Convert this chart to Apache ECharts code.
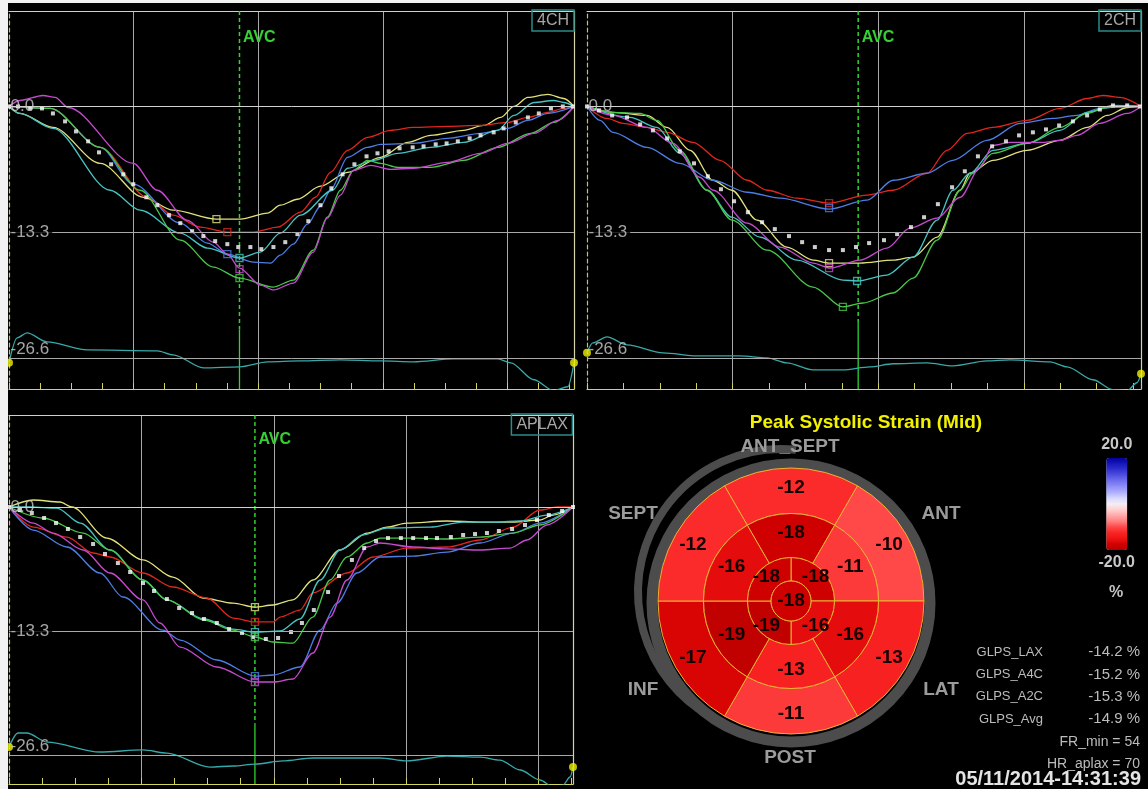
<!DOCTYPE html>
<html><head><meta charset="utf-8">
<script src="https://cdn.jsdelivr.net/npm/echarts@6/dist/echarts.min.js"></script>
<style>html,body{margin:0;padding:0;background:#000}#c{width:1148px;height:789px}</style>
</head><body><div id="c"></div>
<script>
// ---------------- DATA ----------------
const Y_TICKS = [0, -13.3, -26.6];
const Y_TICK_LABELS = ['0.0', '-13.3', '-26.6'];
const VIEW_NAMES = ['4CH', '2CH', 'APLAX'];
const AVC_TIMES = [7.40, 7.45, 7.43];
const AVC_TEXT = 'AVC';

// 4CH  (x: frame ticks, y: strain %)
const ch4Yellow = [[0,0],[0.35,-0.74],[1.41,-2.22],[2.93,-6.02],[4.31,-9.61],[5.27,-10.98],[6.66,-11.93],[7.43,-11.93],[8.30,-11.29],[8.71,-10.45],[9.26,-9.82],[10.0,-8.44],[10.87,-6.97],[11.93,-5.38],[12.80,-3.80],[13.54,-3.06],[14.60,-2.53],[15.24,-2.01],[15.79,-1.16],[16.21,0],[16.66,0.95],[17.30,1.27],[17.81,0.84],[18.14,0]];
const ch4Red = [[0,0],[1.32,-0.21],[2.93,-4.33],[4.44,-9.61],[5.27,-11.51],[6.14,-12.77],[7.01,-13.30],[7.85,-13.30],[8.62,-12.77],[9.36,-11.19],[9.84,-9.61],[10.32,-6.97],[10.87,-4.64],[11.51,-3.27],[12.25,-2.53],[12.99,-2.22],[14.08,-2.11],[15.14,-2.01],[16.01,-1.69],[16.66,-1.16],[17.30,-0.63],[17.81,-0.21],[18.14,0]];
const ch4Blue = [[0,0],[1.32,-0.21],[2.93,-4.33],[3.99,-8.23],[5.50,-12.35],[6.37,-14.46],[7.01,-15.62],[7.85,-16.47],[8.40,-16.57],[8.71,-15.73],[9.13,-14.57],[9.58,-12.46],[10.0,-10.56],[10.32,-8.87],[10.87,-5.38],[11.51,-4.33],[11.93,-4.01],[12.99,-3.91],[14.08,-3.38],[15.14,-2.85],[16.01,-2.32],[16.66,-1.48],[17.30,-0.74],[18.14,0]];
const ch4Cyan = [[0,0],[0.35,-0.74],[1.41,-2.32],[3.25,-8.87],[4.21,-10.98],[5.50,-13.41],[6.37,-14.99],[7.40,-16.04],[8.07,-15.41],[8.71,-13.41],[9.36,-11.51],[10.39,-8.87],[10.87,-6.54],[11.70,-5.70],[12.48,-4.96],[13.54,-4.33],[14.60,-3.80],[15.69,-2.53],[16.21,-0.95],[16.85,0.42],[17.49,0.63],[17.81,0.42],[18.14,0]];
const ch4Green = [[0,0],[1.32,-0.21],[2.93,-4.33],[4.21,-8.87],[5.50,-14.15],[6.56,-17.0],[7.40,-18.16],[8.49,-19.11],[9.13,-18.37],[9.77,-15.20],[10.22,-11.72],[10.64,-8.87],[11.06,-6.76],[11.51,-5.70],[11.93,-6.02],[12.48,-6.44],[13.54,-6.44],[14.60,-5.70],[15.69,-4.33],[16.75,-2.85],[17.49,-1.69],[18.14,0]];
const ch4Magenta = [[0,0],[0.35,0.63],[1.09,1.16],[1.48,0.95],[1.90,-0.11],[3.99,-6.02],[4.76,-8.87],[5.72,-12.03],[6.56,-14.36],[7.01,-15.62],[7.40,-17.10],[8.07,-18.90],[8.49,-19.42],[9.13,-18.69],[9.77,-15.41],[10.22,-11.82],[10.64,-9.39],[11.06,-6.76],[11.61,-6.23],[12.25,-6.65],[12.99,-6.54],[14.08,-5.91],[15.14,-4.96],[16.01,-3.91],[16.85,-2.85],[17.62,-1.48],[18.14,0]];
const ch4Avg = [[0,0],[0.29,0],[0.68,-0.21],[1.06,-0.21],[1.41,-0.74],[1.80,-1.58],[2.15,-2.64],[2.54,-3.69],[2.89,-4.86],[3.28,-6.12],[3.67,-7.18],[3.99,-8.23],[4.41,-9.61],[4.76,-10.45],[5.14,-11.51],[5.50,-12.35],[5.88,-13.20],[6.24,-13.72],[6.62,-14.25],[7.01,-14.57],[7.36,-14.88],[7.75,-14.88],[8.10,-15.10],[8.49,-14.88],[8.87,-14.36],[9.26,-13.51],[9.61,-12.14],[10.0,-10.45],[10.35,-8.66],[10.71,-7.18],[11.09,-6.12],[11.48,-5.28],[11.83,-4.96],[12.19,-4.75],[12.54,-4.43],[12.96,-4.33],[13.31,-4.22],[13.70,-4.01],[14.05,-3.91],[14.41,-3.69],[14.79,-3.38],[15.14,-3.06],[15.56,-2.74],[15.88,-2.32],[16.27,-1.69],[16.66,-1.16],[17.01,-0.74],[17.40,-0.21],[17.78,0],[18.10,0]];
const ch4Ecg = [[0,-27.13],[0.26,-24.49],[0.58,-23.96],[1.22,-24.91],[2.51,-25.76],[4.76,-25.86],[5.27,-26.28],[6.24,-27.66],[7.40,-27.55],[8.30,-27.02],[9.36,-26.92],[10.64,-26.81],[11.93,-26.92],[12.99,-27.02],[14.28,-26.71],[15.69,-26.71],[16.11,-27.13],[16.85,-28.92],[17.49,-30.08],[17.94,-29.66],[18.14,-27.13]];
// peak markers: yellow, red, blue, cyan, green, magenta
const ch4Peaks = [[6.66,-11.93],[7.01,-13.30],[7.01,-15.62],[7.40,-16.04],[7.40,-18.16],[7.40,-17.21]];

// 2CH
const ch2Yellow = [[0,0],[0.71,-0.63],[1.65,-0.95],[2.20,-2.22],[2.83,-4.64],[3.46,-7.81],[3.98,-8.87],[4.67,-12.03],[5.49,-14.88],[6.21,-16.26],[6.65,-16.57],[7.50,-16.57],[8.41,-16.26],[8.96,-15.94],[9.62,-13.83],[10.25,-8.87],[10.52,-7.07],[11.15,-5.70],[12.09,-4.64],[12.99,-3.59],[13.74,-2.22],[14.29,-0.95],[14.84,-0.11],[15.22,0]];
const ch2Red = [[0,0],[0.55,-1.27],[0.99,-1.79],[1.65,-2.22],[2.20,-2.74],[2.91,-3.80],[3.65,-5.70],[4.40,-7.81],[4.95,-8.87],[5.77,-9.71],[6.65,-10.24],[7.69,-9.39],[8.41,-8.87],[9.34,-7.07],[9.89,-4.64],[10.44,-2.85],[11.15,-2.22],[12.09,-1.48],[12.99,-0.21],[13.74,0.84],[14.18,1.16],[14.64,0.95],[15.22,0]];
const ch2Blue = [[0,0],[0.36,-1.48],[0.71,-2.74],[1.65,-4.33],[2.55,-6.02],[3.46,-7.81],[4.40,-9.08],[5.30,-9.71],[6.65,-10.87],[7.69,-9.92],[8.41,-7.81],[9.34,-7.07],[10.05,-5.70],[10.99,-3.59],[11.90,-1.79],[12.80,-1.27],[13.46,-0.95],[14.09,-0.21],[14.84,0.11],[15.22,0]];
const ch2Cyan = [[0,0],[1.18,-1.16],[1.92,-2.22],[2.55,-4.96],[3.30,-8.87],[3.98,-11.72],[4.75,-13.83],[5.77,-16.26],[7.03,-18.37],[7.42,-18.47],[8.24,-17.84],[8.96,-15.94],[9.62,-12.03],[10.05,-8.87],[10.52,-7.07],[11.15,-4.64],[12.09,-3.91],[12.99,-2.53],[13.74,-0.63],[14.45,0.11],[15.22,0]];
const ch2Green = [[0,0],[0.71,-0.63],[1.46,-0.74],[1.92,-1.48],[2.55,-4.64],[3.30,-8.87],[3.98,-12.03],[4.95,-15.20],[6.21,-19.11],[7.03,-21.22],[7.58,-20.80],[8.41,-19.74],[8.96,-18.16],[9.62,-14.15],[10.25,-8.87],[10.60,-7.07],[11.15,-4.96],[12.09,-3.91],[12.99,-2.22],[13.74,-0.74],[14.29,-0.11],[15.22,0]];
const ch2Magenta = [[0,0],[0.71,-0.95],[1.65,-2.22],[2.36,-3.91],[3.10,-7.49],[3.46,-8.87],[4.40,-12.35],[5.30,-14.88],[6.21,-16.57],[6.68,-17.10],[7.50,-16.26],[8.24,-14.99],[8.87,-12.88],[9.62,-11.82],[10.25,-9.61],[10.80,-6.44],[11.15,-4.12],[11.62,-3.80],[12.53,-3.80],[12.99,-3.59],[13.46,-3.06],[14.09,-1.79],[14.84,-0.74],[15.22,0]];
const ch2Avg = [[0,0],[0.33,-0.42],[0.69,-0.95],[1.10,-1.16],[1.46,-1.90],[1.81,-2.53],[2.20,-3.38],[2.55,-4.75],[2.94,-6.02],[3.32,-7.39],[3.68,-8.76],[4.04,-10.03],[4.42,-11.19],[4.81,-12.25],[5.16,-12.98],[5.55,-13.72],[5.91,-14.36],[6.26,-14.88],[6.65,-15.20],[7.03,-15.20],[7.39,-14.88],[7.75,-14.46],[8.16,-14.15],[8.52,-13.51],[8.90,-12.77],[9.26,-11.72],[9.64,-10.34],[10.03,-8.55],[10.38,-6.86],[10.74,-5.28],[11.13,-4.22],[11.51,-3.69],[11.87,-3.06],[12.25,-2.74],[12.61,-2.43],[12.97,-2.01],[13.35,-1.58],[13.74,-0.95],[14.09,-0.32],[14.45,0.11],[14.84,0.11],[15.19,0]];
const ch2Ecg = [[0,-26.07],[0.16,-25.02],[0.55,-24.38],[1.10,-25.23],[2.09,-26.07],[3.02,-26.39],[4.20,-26.39],[4.95,-26.60],[5.49,-27.13],[6.21,-27.87],[7.03,-27.87],[7.77,-27.55],[8.41,-27.23],[9.34,-27.13],[10.05,-27.45],[10.99,-26.92],[11.62,-26.81],[12.72,-27.02],[13.19,-27.55],[13.90,-28.92],[14.45,-29.98],[14.84,-30.08],[15.11,-29.24],[15.22,-28.29]];
const ch2Peaks = [[6.65,-16.57],[6.65,-10.24],[6.65,-10.77],[7.42,-18.47],[7.03,-21.22],[6.65,-17.10]];

// APLAX
const laxYellow = [[0,0],[0.73,0.75],[1.54,0.54],[1.90,0],[2.96,-3.33],[4.05,-5.68],[4.95,-7.51],[5.86,-9.76],[6.77,-10.30],[7.43,-10.73],[7.98,-10.51],[8.58,-9.97],[9.18,-7.83],[10.0,-4.61],[10.82,-2.79],[11.42,-2.15],[12.02,-1.72],[13.23,-1.50],[14.23,-1.61],[15.23,-1.61],[16.04,-1.39],[16.44,-0.86],[17.04,0]];
const laxRed = [[0,0],[0.73,-2.15],[1.75,-3.22],[2.54,-4.93],[3.05,-5.36],[4.05,-7.08],[4.95,-8.58],[5.98,-9.76],[6.77,-11.91],[7.43,-12.33],[7.98,-12.33],[8.19,-11.80],[8.79,-11.05],[9.18,-9.22],[10.21,-7.08],[11.0,-5.36],[12.02,-4.40],[13.23,-4.29],[14.23,-3.54],[15.23,-2.15],[16.04,-0.32],[16.56,0],[17.04,0]];
const laxBlue = [[0,0],[0.73,-2.47],[1.75,-4.29],[2.75,-7.08],[3.44,-9.65],[4.65,-13.20],[5.17,-14.27],[6.28,-16.41],[7.43,-18.13],[7.98,-18.02],[8.79,-17.16],[9.40,-13.20],[9.91,-10.30],[10.51,-7.08],[11.21,-5.36],[12.21,-5.26],[13.23,-4.83],[14.23,-3.86],[15.23,-2.79],[16.04,-1.72],[17.04,0]];
const laxCyan = [[0,0],[0.63,0],[1.45,-0.11],[2.15,-1.72],[3.05,-4.61],[4.05,-7.83],[4.77,-9.97],[5.89,-12.01],[6.77,-13.09],[7.43,-13.41],[8.19,-13.30],[8.79,-12.01],[9.40,-7.83],[10.0,-4.61],[10.69,-3.00],[11.42,-2.25],[12.72,-2.15],[13.72,-1.61],[14.74,-1.61],[15.44,-1.50],[16.25,-0.86],[17.04,0]];
const laxGreen = [[0,0],[1.03,-1.18],[2.24,-2.79],[3.05,-4.61],[4.05,-7.83],[4.77,-9.97],[5.89,-12.12],[6.77,-13.20],[7.43,-13.94],[7.98,-14.48],[8.58,-14.59],[9.18,-11.80],[9.70,-7.83],[10.21,-5.36],[10.82,-3.86],[11.21,-3.33],[12.21,-3.33],[13.23,-3.43],[14.23,-3.22],[15.23,-2.79],[16.04,-1.93],[17.04,0]];
const laxMagenta = [[0,0],[0.73,-1.72],[1.33,-2.79],[2.24,-4.61],[3.05,-7.08],[4.05,-9.97],[4.56,-12.44],[5.17,-15.02],[6.28,-17.16],[7.43,-18.77],[7.98,-18.77],[8.58,-18.45],[9.18,-15.66],[9.70,-11.80],[10.21,-7.83],[10.82,-4.29],[11.21,-3.86],[12.21,-4.29],[13.23,-4.50],[14.23,-4.61],[15.14,-4.40],[15.65,-3.54],[16.25,-1.93],[17.04,0]];
const laxAvg = [[0,0],[0.33,-0.32],[0.69,-0.64],[1.06,-1.18],[1.42,-1.72],[1.78,-2.36],[2.15,-3.22],[2.54,-3.97],[2.90,-5.04],[3.29,-6.01],[3.66,-6.97],[4.05,-8.15],[4.38,-9.01],[4.77,-9.87],[5.14,-10.83],[5.53,-11.37],[5.89,-12.01],[6.28,-12.44],[6.65,-13.09],[7.04,-13.51],[7.37,-13.94],[7.76,-14.16],[8.13,-14.05],[8.52,-13.41],[8.85,-12.44],[9.21,-11.05],[9.64,-9.12],[9.97,-7.40],[10.36,-5.68],[10.73,-4.40],[11.09,-3.65],[11.45,-3.33],[11.84,-3.33],[12.21,-3.33],[12.60,-3.33],[12.93,-3.33],[13.35,-3.22],[13.72,-3.00],[14.08,-2.90],[14.44,-2.79],[14.80,-2.57],[15.20,-2.36],[15.59,-1.93],[15.95,-1.39],[16.31,-0.86],[16.71,-0.43],[17.04,0]];
const laxEcg = [[0,-25.74],[0.27,-24.24],[0.54,-24.24],[1.15,-25.21],[2.75,-26.28],[4.05,-26.06],[4.77,-26.39],[6.07,-27.89],[6.77,-27.78],[7.43,-27.57],[8.28,-27.24],[9.18,-26.92],[11.21,-26.92],[12.02,-27.24],[13.23,-26.71],[14.23,-26.82],[14.83,-27.14],[15.44,-28.21],[16.04,-29.28],[16.44,-30.03],[16.74,-29.82],[16.95,-28.96],[17.04,-27.89]];
const laxPeaks = [[7.43,-10.73],[7.43,-12.33],[7.43,-18.13],[7.43,-13.41],[7.43,-13.94],[7.43,-18.77]];

// Bull's eye (Peak Systolic Strain, %)
const SEGMENTS_6 = ['ANT_SEPT', 'ANT', 'LAT', 'POST', 'INF', 'SEPT'];   // clockwise from top
const basalStrain = [-12, -10, -13, -11, -17, -12];
const midStrain = [-18, -11, -16, -13, -19, -16];
const SEGMENTS_4 = ['ANT', 'LAT', 'INF', 'SEPT'];                       // clockwise from top-right
const apicalStrain = [-18, -16, -19, -18];
const apexStrain = [-18];
const SCALE_MIN = -20, SCALE_MAX = 20;
const SCALE_LABELS = ['20.0', '-20.0', '%'];
const BULLSEYE_TITLE = 'Peak Systolic Strain (Mid)';
const GLPS_NAMES = ['GLPS_LAX', 'GLPS_A4C', 'GLPS_A2C', 'GLPS_Avg'];
const GLPS_VALUES = [-14.2, -15.2, -15.3, -14.9];
const FR_MIN = 54;
const HR_APLAX = 70;
const TIMESTAMP = '05/11/2014-14:31:39';

// ---------------- LAYOUT / STYLE ----------------
const FONT = '"Liberation Sans", Arial, sans-serif';
const CURVE_COLORS = ['#e2e27c', '#e0261e', '#4c7ee6', '#46c4c4', '#48c848', '#c64ad0'];
const ECG_COLOR = '#37a9a9';
const AVC_COLOR = '#2fd42f';
const SCALE_COLORS = ['#b40000', '#d40000', '#ee1414', '#fa2424', '#ff4848', '#ff8080', '#ffa8a8', '#ffd0d0', '#f4eef4',
  '#d8d8ff', '#b0b0ff', '#9090f8', '#7070f0', '#5050e0', '#3030d0', '#1818b8', '#0000a0'];
const PANEL_LAYOUT = [
  { left: 9, top: 11, width: 565, height: 378, xMax: 18.14, yMin: -29.9, yMax: 10.1, avcSolid: -23.6, avcLabelY: 7.28 },
  { left: 587, top: 11, width: 554, height: 378, xMax: 15.22, yMin: -29.9, yMax: 10.1, avcSolid: -22.8, avcLabelY: 7.28 },
  { left: 9, top: 415, width: 564, height: 369, xMax: 17.04, yMin: -29.71, yMax: 9.87, avcSolid: -23.2, avcLabelY: 7.19 }
];
const BE_CENTER = [791, 601];
const WALL_LABEL_POS = [[790, 447], [941, 514], [941, 690], [790, 758], [643, 690], [633, 514]];

const PANEL_DATA = [
  { curves: [ch4Yellow, ch4Red, ch4Blue, ch4Cyan, ch4Green, ch4Magenta], avg: ch4Avg, ecg: ch4Ecg, peaks: ch4Peaks },
  { curves: [ch2Yellow, ch2Red, ch2Blue, ch2Cyan, ch2Green, ch2Magenta], avg: ch2Avg, ecg: ch2Ecg, peaks: ch2Peaks },
  { curves: [laxYellow, laxRed, laxBlue, laxCyan, laxGreen, laxMagenta], avg: laxAvg, ecg: laxEcg, peaks: laxPeaks }
];

const grids = [], xAxes = [], yAxes = [], series = [], titles = [];

PANEL_LAYOUT.forEach((L, p) => {
  grids.push({ left: L.left, top: L.top, width: L.width, height: L.height, containLabel: false });
  xAxes.push({ type: 'value', gridIndex: p, position: 'bottom', min: 0, max: L.xMax, interval: 1,
    axisLine: { show: true, onZero: false, lineStyle: { color: '#d4d45c', width: 1.2 } },
    axisTick: { show: true, inside: true, length: 6, lineStyle: { color: '#d4d45c' } },
    axisLabel: { show: false }, splitLine: { show: false } });
  xAxes.push({ type: 'value', gridIndex: p, position: 'top', min: 0, max: L.xMax, interval: 4,
    axisLine: { show: true, onZero: false, lineStyle: { color: '#d6d6a2', width: 1.2 } },
    axisTick: { show: false }, axisLabel: { show: false },
    splitLine: { show: true, showMinLine: false, showMaxLine: false, lineStyle: { color: '#a9a9a9', width: 1 } } });
  yAxes.push({ type: 'value', gridIndex: p, position: 'left', min: L.yMin, max: L.yMax,
    axisLine: { show: true, onZero: false, lineStyle: { color: '#c4c45e', width: 1.2, type: [4, 3] } },
    axisTick: { show: false }, axisLabel: { show: false }, splitLine: { show: false } });
  yAxes.push({ type: 'value', gridIndex: p, position: 'right', min: L.yMin, max: L.yMax,
    axisLine: { show: true, onZero: false, lineStyle: { color: '#d4d4aa', width: 1.2 } },
    axisTick: { show: false }, axisLabel: { show: false }, splitLine: { show: false } });

  titles.push({ text: VIEW_NAMES[p], right: 1148 - (L.left + L.width), top: L.top - 1,
    padding: [3, 5, 2, 5], borderColor: '#2b8b8b', borderWidth: 1.5, itemGap: 0,
    textStyle: { color: '#a6a6a6', fontSize: 16, fontWeight: 'normal', fontFamily: FONT } });

  const D = PANEL_DATA[p];
  const base = { xAxisIndex: 2 * p, yAxisIndex: 2 * p, animation: false, silent: true };
  // horizontal grid lines at tick values
  series.push(Object.assign({}, base, { type: 'line', data: [], z: 1,
    markLine: { symbol: ['none', 'none'], silent: true, animation: false, label: { show: false },
      data: Y_TICKS.map((v, i) => ({ yAxis: v, lineStyle: { color: i === 0 ? '#d2d2d2' : '#a9a9a9', width: 1, type: 'solid' } })) } }));
  // AVC marker: dashed upper part, solid lower part
  const avc = AVC_TIMES[p];
  series.push(Object.assign({}, base, { type: 'line', z: 2, symbol: 'none',
    data: [[avc, L.yMax], [avc, L.avcSolid]],
    lineStyle: { color: AVC_COLOR, width: 1.5, type: [4, 3] },
    markPoint: { symbol: 'circle', symbolSize: 1, animation: false, silent: true, itemStyle: { color: 'rgba(0,0,0,0)' },
      label: { show: true, position: 'right', distance: 3, formatter: AVC_TEXT, color: '#34d034', fontSize: 16, fontWeight: 'bold', fontFamily: FONT },
      data: [{ coord: [avc, L.avcLabelY] }] } }));
  series.push(Object.assign({}, base, { type: 'line', z: 2, symbol: 'none',
    data: [[avc, L.avcSolid], [avc, L.yMin]],
    lineStyle: { color: AVC_COLOR, width: 1.3, type: 'solid' } }));
  // strain curves
  D.curves.forEach((c, k) => series.push(Object.assign({}, base, { type: 'line', data: c, z: 3,
    smooth: 0.3, smoothMonotone: 'x', symbol: 'none', lineStyle: { color: CURVE_COLORS[k], width: 1.3 } })));
  // ecg trace
  series.push(Object.assign({}, base, { type: 'line', data: D.ecg, z: 3, smooth: 0.3, smoothMonotone: 'x',
    symbol: 'none', lineStyle: { color: ECG_COLOR, width: 1.3 } }));
  series.push(Object.assign({}, base, { type: 'scatter', data: [D.ecg[0], D.ecg[D.ecg.length - 1]], z: 4,
    symbol: 'circle', symbolSize: 8, itemStyle: { color: '#f0f000' } }));
  // average (white dots)
  series.push(Object.assign({}, base, { type: 'scatter', data: D.avg, z: 4, symbol: 'rect', symbolSize: 4,
    itemStyle: { color: '#ffffff' } }));
  // peak markers
  series.push(Object.assign({}, base, { type: 'scatter', z: 5, symbol: 'rect', symbolSize: 7,
    data: D.peaks.map((pt, k) => ({ value: pt, itemStyle: { color: 'rgba(0,0,0,0)', borderColor: CURVE_COLORS[k], borderWidth: 1.3 } })) }));
  // y tick labels
  series.push(Object.assign({}, base, { type: 'scatter', z: 6, symbol: 'rect', symbolSize: 1,
    itemStyle: { color: 'rgba(0,0,0,0)' },
    label: { show: true, position: 'right', distance: 1, color: '#cdcdcd', fontSize: 17, fontFamily: FONT,
      formatter: (prm) => Y_TICK_LABELS[prm.dataIndex] },
    data: Y_TICKS.map((v, i) => ({ value: [0, v],
      label: i === 1 ? { backgroundColor: '#000', padding: [1, 3, 1, 0] } : (i === 2 ? { offset: [0, -9] } : {}) })) }));
});

// Bull's eye
const datasets = [
  { dimensions: ['seg', 'size', 'strain'], source: SEGMENTS_6.map((s, i) => [s, 1, basalStrain[i]]) },
  { dimensions: ['seg', 'size', 'strain'], source: SEGMENTS_6.map((s, i) => [s, 1, midStrain[i]]) },
  { dimensions: ['seg', 'size', 'strain'], source: SEGMENTS_4.map((s, i) => [s, 1, apicalStrain[i]]) },
  { dimensions: ['seg', 'size', 'strain'], source: [['APEX', 1, apexStrain[0]]] }
];
const RINGS = [
  { radius: [87.5, 133], start: 120, pos: 'inside' },
  { radius: [43.5, 87.5], start: 120, pos: 'inside' },
  { radius: [20, 43.5], start: 90, pos: 'inside' },
  { radius: [0, 20], start: 90, pos: 'center' }
];
const pieIdx = [];
RINGS.forEach((r, i) => {
  pieIdx.push(series.length);
  series.push({ type: 'pie', datasetIndex: i, center: BE_CENTER, radius: r.radius, startAngle: r.start, clockwise: true,
    encode: { itemName: 'seg', value: 'size' }, silent: true, animation: false, avoidLabelOverlap: false, z: 3,
    itemStyle: { borderColor: '#e8b434', borderWidth: 1 },
    label: { show: true, position: r.pos, formatter: '{@strain}', color: '#140000', fontSize: 19, fontWeight: 'bold', fontFamily: FONT },
    labelLine: { show: false } });
});

const graphics = [
  { type: 'rect', shape: { x: 0, y: 0, width: 8, height: 789 }, style: { fill: '#f2f2f2' }, z: 10 },
  { type: 'rect', shape: { x: 0, y: 0, width: 1148, height: 3 }, style: { fill: '#f2f2f2' }, z: 10 },
  { type: 'arc', shape: { cx: 791, cy: 603, r: 139, startAngle: 0, endAngle: Math.PI * 2 }, style: { stroke: '#4c4c4c', lineWidth: 11, fill: null }, z: 0 },
  { type: 'arc', shape: { cx: 781, cy: 592, r: 143, startAngle: 125 * Math.PI / 180, endAngle: 276 * Math.PI / 180, clockwise: true }, style: { stroke: '#4c4c4c', lineWidth: 8, fill: null }, z: 0 },
  { type: 'text', x: 866, y: 423, style: { text: BULLSEYE_TITLE, fill: '#f2f200', font: 'bold 19px ' + FONT, textAlign: 'center', textVerticalAlign: 'middle' }, z: 10 },
  { type: 'text', x: 1116, y: 593, style: { text: SCALE_LABELS[2], fill: '#c4c4c4', font: 'bold 16px ' + FONT, textAlign: 'center', textVerticalAlign: 'middle' }, z: 10 }
];
SEGMENTS_6.forEach((s, i) => graphics.push({ type: 'text', x: WALL_LABEL_POS[i][0], y: WALL_LABEL_POS[i][1],
  style: { text: s, fill: '#9b9b9b', font: 'bold 19px ' + FONT, textAlign: 'center', textVerticalAlign: 'middle' }, z: 10 }));
GLPS_NAMES.forEach((n, i) => {
  const y = 652 + i * 22.4;
  graphics.push({ type: 'text', x: 1043, y: y, style: { text: n, fill: '#bcbcbc', font: '13px ' + FONT, textAlign: 'right', textVerticalAlign: 'middle' }, z: 10 });
  graphics.push({ type: 'text', x: 1140, y: y, style: { text: GLPS_VALUES[i].toFixed(1) + ' %', fill: '#bcbcbc', font: '15px ' + FONT, textAlign: 'right', textVerticalAlign: 'middle' }, z: 10 });
});
graphics.push({ type: 'text', x: 1140, y: 742, style: { text: 'FR_min = ' + FR_MIN, fill: '#bcbcbc', font: '14px ' + FONT, textAlign: 'right', textVerticalAlign: 'middle' }, z: 10 });
graphics.push({ type: 'text', x: 1140, y: 764, style: { text: 'HR_aplax = ' + HR_APLAX, fill: '#bcbcbc', font: '14px ' + FONT, textAlign: 'right', textVerticalAlign: 'middle' }, z: 10 });
graphics.push({ type: 'text', x: 1141, y: 779, style: { text: TIMESTAMP, fill: '#e4e4e4', font: 'bold 20px ' + FONT, textAlign: 'right', textVerticalAlign: 'middle' }, z: 10 });

const option = {
  backgroundColor: '#000',
  animation: false,
  textStyle: { fontFamily: FONT },
  title: titles,
  grid: grids,
  xAxis: xAxes,
  yAxis: yAxes,
  dataset: datasets,
  visualMap: {
    type: 'continuous', min: SCALE_MIN, max: SCALE_MAX, seriesIndex: pieIdx, dimension: 2,
    calculable: false, hoverLink: false, orient: 'vertical', right: -2, top: 422,
    itemWidth: 21, itemHeight: 92, textGap: 5, text: [SCALE_LABELS[0], SCALE_LABELS[1]],
    textStyle: { color: '#c8c8c8', fontSize: 16, fontWeight: 'bold', fontFamily: FONT },
    inRange: { color: SCALE_COLORS }
  },
  graphic: { elements: graphics },
  series: series
};
const chart = echarts.init(document.getElementById('c'), null, { renderer: 'canvas' });
chart.setOption(option);
</script></body></html>
